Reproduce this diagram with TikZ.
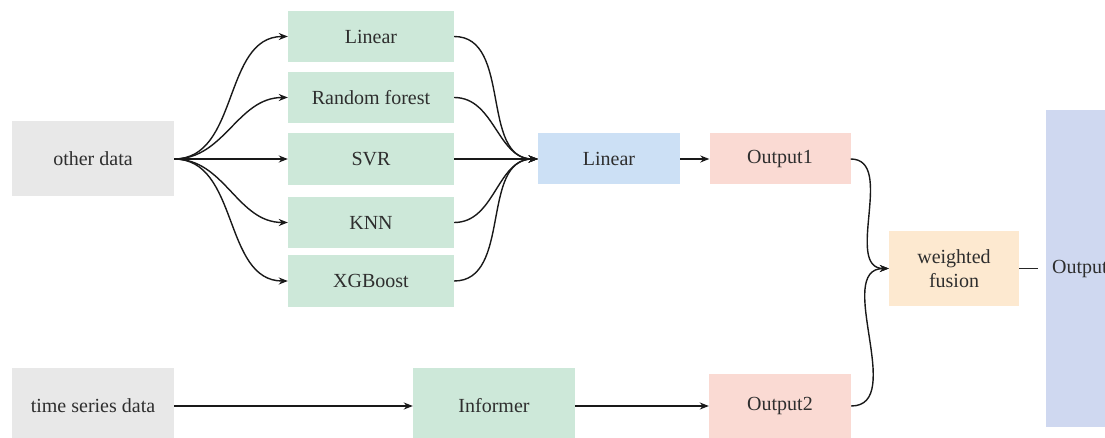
\documentclass[tikz,border=0pt]{standalone}
\usepackage{fontspec}
\setmainfont{Liberation Serif}
\usetikzlibrary{arrows.meta}
\definecolor{cgray}{HTML}{E8E8E8}
\definecolor{cgreen}{HTML}{CDE8D9}
\definecolor{cblue}{HTML}{CCE0F5}
\definecolor{cpink}{HTML}{FADAD3}
\definecolor{cpeach}{HTML}{FDE9D0}
\definecolor{clav}{HTML}{CFD8F0}
\definecolor{ctext}{HTML}{2E2E2E}
\tikzset{
  box/.style={draw=none, inner sep=0pt, align=center, text=ctext,
    font=\fontsize{20}{24}\selectfont},
  conn/.style={line width=1.4pt, draw=black!90, -{Stealth[length=9pt,width=7pt]}},
  plain/.style={line width=1.4pt, draw=black!85},
}
\begin{document}
\begin{tikzpicture}[x=1pt,y=-1pt]
\useasboundingbox (0,0) rectangle (1105,438);
\clip (0,0) rectangle (1105,438);
% big output panel
\fill[clav] (1046,110) rectangle (1120,427);
\node[box, anchor=west] (outtxt) at (1052,269) {Output};

\node[box, fill=cgray, minimum width=162pt, minimum height=75pt] (other) at (93,159) {other data};
\node[box, fill=cgreen, minimum width=166pt, minimum height=51pt] (lin1) at (371,36.5) {Linear};
\node[box, fill=cgreen, minimum width=166pt, minimum height=51pt] (rf) at (371,97.5) {Random forest};
\node[box, fill=cgreen, minimum width=166pt, minimum height=52pt] (svr) at (371,159) {SVR};
\node[box, fill=cgreen, minimum width=166pt, minimum height=51pt] (knn) at (371,222.5) {KNN};
\node[box, fill=cgreen, minimum width=166pt, minimum height=51pt] (xgb) at (371,281) {XGBoost};
\node[box, fill=cblue, minimum width=142pt, minimum height=51pt] (linb) at (609,159) {Linear};
\node[box, fill=cpink, minimum width=141pt, minimum height=51pt] (out1) at (780,159) {Output1};
\node[box, fill=cpeach, minimum width=130pt, minimum height=75pt] (fus) at (954,268.5) {weighted\\fusion};
\node[box, fill=cgray, minimum width=162pt, minimum height=76pt] (ts) at (93,406) {time series data};
\node[box, fill=cgreen, minimum width=162pt, minimum height=76pt] (inf) at (494,406) {Informer};
\node[box, fill=cpink, minimum width=142pt, minimum height=64pt] (out2) at (780,406) {Output2};
\coordinate (fend) at (1038,268.5);

\foreach \t in {lin1,rf,knn,xgb}{
  \draw[conn] (other.east) to[out=0,in=180] (\t.west);
  \draw[conn] (\t.east) to[out=0,in=180] (linb.west);
}
\draw[conn] (other.east) -- (svr.west);
\draw[conn] (svr.east) -- (linb.west);
\draw[conn] (linb.east) -- (out1.west);
\draw[conn] (out1.east) to[out=0,in=180] (fus.west);
\draw[conn] (out2.east) to[out=0,in=180] (fus.west);
\draw[conn] (ts.east) -- (inf.west);
\draw[conn] (inf.east) -- (out2.west);
\draw[plain] (fus.east) -- (fend);
\end{tikzpicture}
\end{document}
